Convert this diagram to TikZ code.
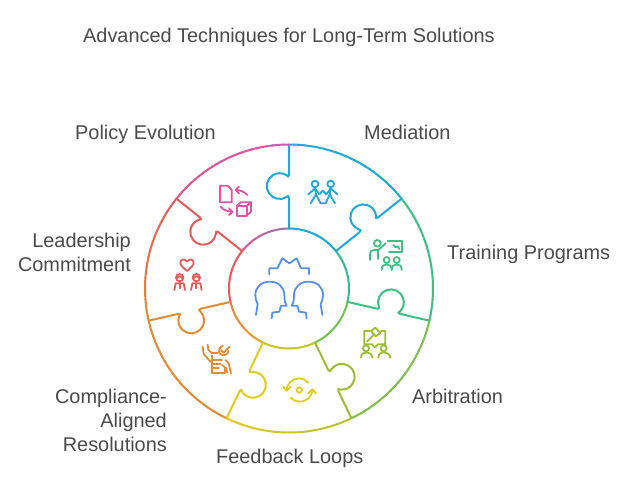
\documentclass[tikz,border=0pt]{standalone}
\usepackage{fontspec}
\setmainfont{Liberation Sans}
\definecolor{cblue}{HTML}{1FA9D6}
\definecolor{cpink}{HTML}{E052A8}
\definecolor{cred}{HTML}{E65A5A}
\definecolor{corange}{HTML}{E58A35}
\definecolor{cyellow}{HTML}{E3CB1E}
\definecolor{colive}{HTML}{9BBD35}
\definecolor{cgreen}{HTML}{3CC183}
\definecolor{chead}{HTML}{5590EC}
\definecolor{ctext}{HTML}{4A4A4A}
\tikzset{
 lbl/.style={font=\fontsize{19.9}{24}\selectfont,text=ctext,inner sep=0pt},
 ring/.style={line width=2pt},
 ico/.style={line width=1.8pt,line cap=round,line join=round},
 big/.style={line width=1.8pt,line cap=round,line join=round},
}
% gradient arc: start angle, end angle, radius, colour a, colour b
\newcommand{\gradarc}[5]{%
 \foreach \k in {0,...,23}{%
  \pgfmathsetmacro{\aa}{#1+(#2-#1)*\k/24}%
  \pgfmathsetmacro{\bb}{#1+(#2-#1)*(\k+1.15)/24}%
  \pgfmathsetmacro{\pp}{100-100*\k/23}%
  \draw[ring,draw=#4!\pp!#5] (\aa:#3) arc[start angle=\aa,end angle=\bb,radius=#3];
 }}
% puzzle divider
\newcommand{\puzzlecut}[2]{%
 \begin{scope}[rotate=#1]
 \draw[ring,#2,line join=round] (60,0)--(90.2,0)
   .. controls (92.6,0) and (93.2,1.6) .. (91.6,2.3)
   arc[start angle=213,end angle=-33,radius=12.9]
   .. controls (111,1.6) and (111.6,0) .. (114,0)--(144,0);
 \end{scope}}
\begin{document}
\begin{tikzpicture}[x=1pt,y=-1pt]
\useasboundingbox (0,0) rectangle (620,484);
\node[lbl,anchor=base west] (title) at (83,43) {Advanced Techniques for Long-Term Solutions};
\node[lbl,anchor=base west] (policy) at (75,139) {Policy Evolution};
\node[lbl,anchor=base west] (mediation) at (364,139) {Mediation};
\node[lbl,anchor=base west] (training) at (447,259) {Training Programs};
\node[lbl,anchor=base west] (arbitration) at (412,403) {Arbitration};
\node[lbl,anchor=base west] (feedback) at (216,463) {Feedback Loops};
\node[lbl,anchor=base east] (comp1) at (167,403) {Compliance-};
\node[lbl,anchor=base east] (comp2) at (167,427) {Aligned};
\node[lbl,anchor=base east] (comp3) at (167,451) {Resolutions};
\node[lbl,anchor=base east] (lead1) at (131,247) {Leadership};
\node[lbl,anchor=base east] (lead2) at (131,271) {Commitment};

\begin{scope}[shift={(289,288.5)},x=1pt,y=1pt]
 % outer arcs
 \gradarc{38.6}{90}{144}{cblue}{cblue}
 \gradarc{90}{141.4}{144}{cpink}{cred!35!cpink}
 \gradarc{141.4}{192.9}{144}{cred}{corange}
 \gradarc{192.9}{244.3}{144}{corange}{corange}
 \gradarc{244.3}{295.7}{144}{cyellow}{colive!60!cyellow}
 \gradarc{295.7}{347.1}{144}{colive}{colive!70!cgreen}
 \gradarc{347.1}{398.6}{144}{cgreen}{cgreen}
 % inner arcs
 \gradarc{38.6}{90}{60}{cblue}{cblue}
 \gradarc{90}{141.4}{60}{cblue!60!cpink}{cpink!70!cred}
 \gradarc{141.4}{192.9}{60}{cred}{cred}
 \gradarc{192.9}{244.3}{60}{cred!60!corange}{cyellow!40!corange}
 \gradarc{244.3}{295.7}{60}{cyellow}{cyellow!60!colive}
 \gradarc{295.7}{347.1}{60}{colive}{colive!60!cgreen}
 \gradarc{347.1}{398.6}{60}{cgreen}{cgreen!70!cblue}
 % dividers
 \puzzlecut{90}{cblue}
 \puzzlecut{38.6}{cblue}
 \puzzlecut{-12.9}{cgreen}
 \puzzlecut{-64.3}{colive}
 \puzzlecut{-115.7}{cyellow}
 \puzzlecut{-167.1}{corange}
 \puzzlecut{141.4}{cred}
\end{scope}

% centre icon
\begin{scope}[shift={(240,240)},x=0.3333pt,y=-0.3333pt,big,draw=chead]
 \draw (88,103)--(88,85)--(112,85)--(127,55)--(148,70)--(170,55)--(183,85)--(207,85)--(207,103);
 \foreach \xf/\xs in {0/1,295/-1}{
 \begin{scope}[shift={(\xf,0)},xscale=\xs]
 \draw (48,225)--(53,192) .. controls (47,180) and (46,172) .. (46,165)
   .. controls (46,140) and (65,125) .. (90,125)
   .. controls (115,125) and (133,142) .. (133,165)
   .. controls (133,175) and (134,182) .. (135,186)
   -- (140,197)--(123,197)--(118,215)--(97,218)--(95,235);
 \end{scope}}
\end{scope}

% pink icon
\begin{scope}[shift={(215,180)},x=0.3333pt,y=-0.3333pt,ico,draw=cpink]
 \draw (15,17)--(38,17)--(50,30)--(50,67)--(15,67)--cycle;
 \draw (97,45) .. controls (88,35) and (76,30) .. (62,30);
 \draw (72,20)--(62,30)--(72,40);
 \draw (17,80) .. controls (25,90) and (38,95) .. (52,95);
 \draw (42,85)--(52,95)--(42,105);
 \draw (65,78)--(95,78)--(95,107)--(65,107)--cycle;
 \draw (65,78)--(77,67)--(108,67)--(95,78);
 \draw (108,67)--(108,95)--(95,107);
\end{scope}

% blue icon
\begin{scope}[shift={(305,175)},x=0.3333pt,y=-0.3333pt,ico,draw=cblue]
 \draw (30,27) circle[radius=10];
 \draw (77,27) circle[radius=10];
 \draw (10,58)--(30,40)--(33,58)--(17,85);
 \draw (33,58)--(47,85)--(62,85)--(74,58)--(77,40)--(97,58);
 \draw (74,58)--(90,85);
 \draw (30,40)--(43,58)--(53,47)--(64,58)--(77,40);
\end{scope}

% green icon
\begin{scope}[shift={(365,235)},x=0.3333pt,y=-0.3333pt,ico,draw=cgreen]
 \draw (37,25) circle[radius=10];
 \draw (15,75)--(15,57) .. controls (15,48) and (20,45) .. (27,45)--(40,45)--(62,25);
 \draw (40,45)--(40,72);
 \draw (68,17)--(112,17)--(112,50)--(72,50);
 \draw (85,30)--(92,37)--(98,34)--(103,42);
 \draw (65,75) circle[radius=9];
 \draw (95,75) circle[radius=9];
 \draw (50,105) .. controls (50,93) and (56,88) .. (65,88) .. controls (74,88) and (80,93) .. (80,105);
 \draw (80,105) .. controls (80,93) and (86,88) .. (95,88) .. controls (104,88) and (110,93) .. (110,105);
\end{scope}

% olive icon
\begin{scope}[shift={(357,325)},x=0.3333pt,y=-0.3333pt,ico,draw=colive]
 \draw (38,18)--(22,18)--(22,58)--(45,58)--(54,67)--(63,58)--(85,58)--(85,18)--(72,18);
 \draw (42,18)--(55,8)--(70,24)--(56,34)--cycle;
 \draw (52,28)--(30,50);
 \draw (27,70) circle[radius=9];
 \draw (80,70) circle[radius=9];
 \draw (12,98) .. controls (12,87) and (19,82) .. (28,82) .. controls (37,82) and (45,87) .. (46,98);
 \draw (64,98) .. controls (64,87) and (71,82) .. (81,82) .. controls (90,82) and (98,87) .. (100,98);
\end{scope}

% yellow icon
\begin{scope}[shift={(280,370)},x=0.3333pt,y=-0.3333pt,ico,draw=cyellow]
 \draw (58,60) circle[radius=8];
 \draw (20,62) .. controls (20,40) and (38,25) .. (58,25) .. controls (68,25) and (78,30) .. (85,38);
 \draw (9,50)--(20,62)--(32,50);
 \draw (97,58) .. controls (97,80) and (80,95) .. (58,95) .. controls (48,95) and (38,90) .. (32,83);
 \draw (85,70)--(97,58)--(108,70);
\end{scope}

% orange icon
\begin{scope}[shift={(197,340)},x=0.3333pt,y=-0.3333pt,ico,draw=corange]
 \draw (45,47)--(45,100)--(85,100)--(85,85);
 \draw (45,40)--(62,40);
 \draw (50,60)--(75,60);
 \draw (50,72)--(70,72);
 \draw (50,85)--(65,85);
 \draw (78,18) .. controls (68,20) and (64,28) .. (66,36) .. controls (69,45) and (80,48) .. (88,43) .. controls (92,41) and (94,37) .. (94,33);
 \draw (72,30)--(80,38)--(98,20);
 \draw (17,20)--(20,42)--(40,65);
 \draw (32,14)--(34,30)--(45,40);
 \draw (85,60)--(95,70)--(102,100);
 \draw (75,75)--(88,85)--(90,98);
\end{scope}

% red icon
\begin{scope}[shift={(167,255)},x=0.3333pt,y=-0.3333pt,ico,draw=cred]
 \draw (60,48) .. controls (48,38) and (40,30) .. (40,23) .. controls (40,12) and (54,10) .. (60,20) .. controls (66,10) and (80,12) .. (80,23) .. controls (80,30) and (72,38) .. (60,48)--cycle;
 \draw (38,68) circle[radius=11];
 \draw (88,68) circle[radius=11];
 \draw (30,70) .. controls (34,62) and (42,62) .. (46,70);
 \draw (80,70) .. controls (84,62) and (92,62) .. (96,70);
 \draw (22,105)--(26,85)--(50,85)--(54,105);
 \draw (38,85)--(38,100);
 \draw (72,105)--(76,85)--(100,85)--(104,105);
 \draw (88,85)--(88,100);
\end{scope}
\end{tikzpicture}
\end{document}
